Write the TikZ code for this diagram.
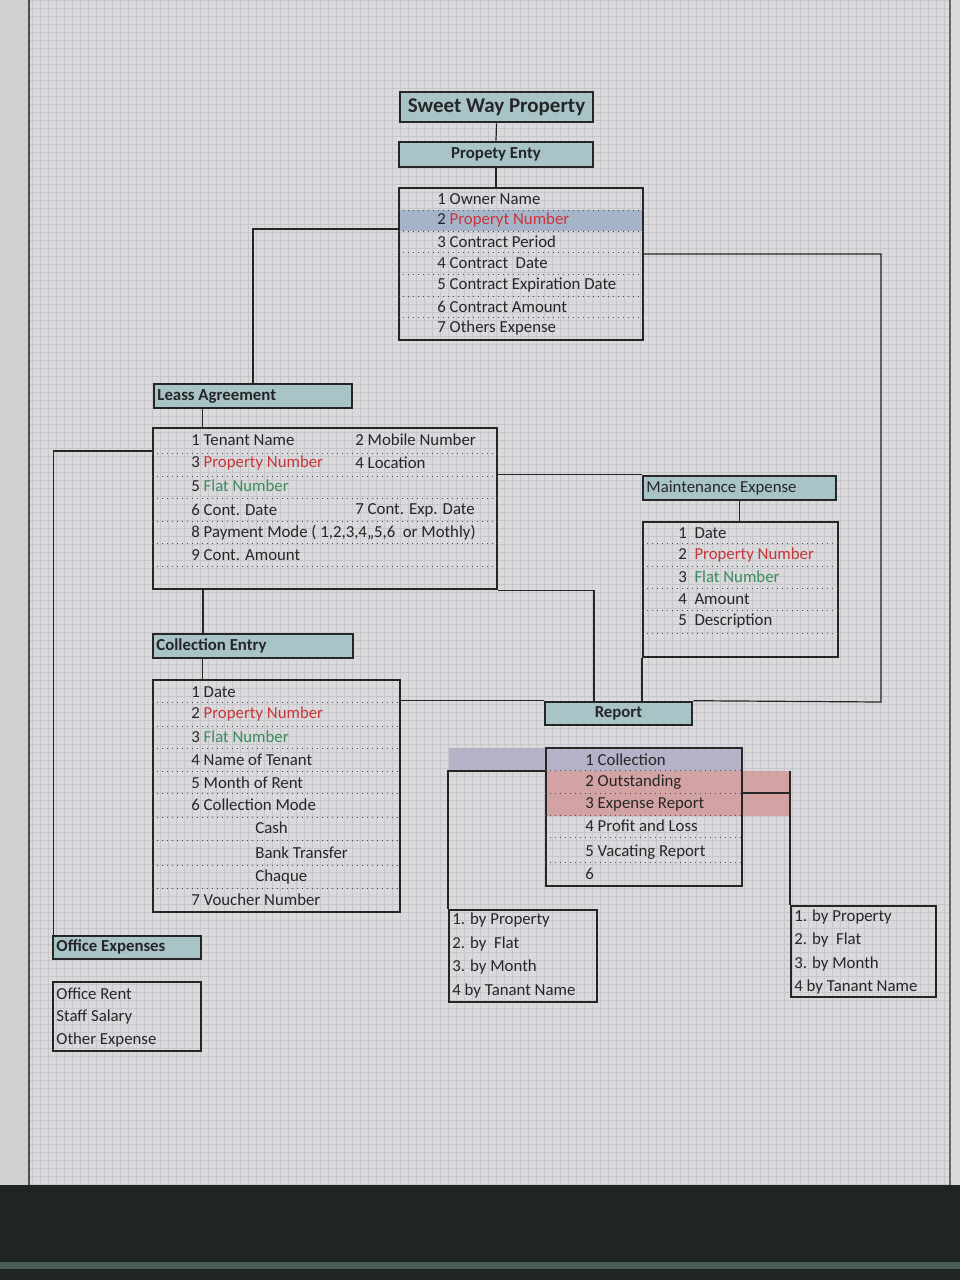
\documentclass[tikz,border=0pt]{standalone}
\usepackage{fontspec}
\setmainfont{Carlito}
\usetikzlibrary{fit}

\definecolor{bgcol}{HTML}{DADADD}
\definecolor{gridcol}{HTML}{C6C6CB}
\definecolor{headfill}{HTML}{A8C4C7}
\definecolor{bluerow}{HTML}{A6B4C9}
\definecolor{purpleband}{HTML}{B6B1C7}
\definecolor{redband}{HTML}{D3A2A3}
\definecolor{redtxt}{HTML}{C8363A}
\definecolor{greentxt}{HTML}{3C8C5C}
\definecolor{txtcol}{HTML}{262628}
\definecolor{darkband}{HTML}{1F2525}
\definecolor{stripecol}{HTML}{4A5A54}

\tikzset{
  headbox/.style={draw=black!85, line width=1.3pt, fill=headfill, inner sep=0pt},
  listbox/.style={draw=black!85, line width=1.1pt, inner sep=0pt},
  rowtxt/.style={anchor=west, inner sep=0pt, text=txtcol, font=\fontsize{8.4}{10}\selectfont},
  headtxt/.style={rowtxt, font=\bfseries\fontsize{8.4}{10}\selectfont},
  sep/.style={dotted, black!70, line width=0.5pt},
  link/.style={black!85, line width=0.6pt}
}
\newcommand{\rd}[1]{\textcolor{redtxt}{#1}}
\newcommand{\gr}[1]{\textcolor{greentxt}{#1}}

\begin{document}
\begin{tikzpicture}[x=0.5pt,y=-0.5pt]
    \useasboundingbox (0,0) rectangle (960,1280);
    % screen
    \fill[bgcol] (0,0) rectangle (960,1185);
    \fill[black!4!bgcol] (0,0) rectangle (29,1185);
    \draw[gridcol, line width=0.3pt, xstep=4pt, ystep=4pt] (29,0) grid (950,1185);
    \draw[black!70, line width=0.6pt] (29,0) -- (29,1185);
    \draw[black!60, line width=0.6pt] (950,0) -- (950,1185);
    \fill[darkband] (0,1185) rectangle (960,1280);
    \fill[stripecol] (0,1262) rectangle (960,1269);

    % property entry
    \node[headbox, fit={(400,92) (593,122)}] (title) {};
    \node[headtxt, anchor=center, font=\bfseries\fontsize{10.5}{12}\selectfont] (titletxt) at (title) {Sweet Way Property};
    \node[headbox, fit={(399,142) (593,167)}] (propentry) {};
    \node[headtxt, anchor=center] (propentrytxt) at (propentry) {Propety Enty};
    \fill[bluerow] (400,210) rectangle (642,231);
    \node[listbox, fit={(399,188) (643,340)}] (propbox) {};
    \foreach \y in {210,231,252,274,296,317}
        \draw[sep] (propbox.west |- 0,\y) -- (propbox.east |- 0,\y);
    \foreach \t [count=\i] in {1 Owner Name, {2 \rd{Properyt Number}}, 3 Contract Period,
        4 Contract\ \ Date, 5 Contract Expiration Date, 6 Contract Amount, 7 Others Expense}
        \node[rowtxt] (own\i) at (437,{199+21.5*(\i-1)}) {\t};

    % lease
    \node[headbox, fit={(154,384) (352,408)}] (leasehead) {};
    \node[headtxt] (leaseheadtxt) at (157,396) {Leass Agreement};
    \node[listbox, fit={(153,428) (497,589)}] (leasebox) {};
    \foreach \y in {453,476,498,521,543,566}
        \draw[sep] (leasebox.west |- 0,\y) -- (leasebox.east |- 0,\y);
    \node[rowtxt] (ls1) at (191,440) {1 Tenant Name};
    \node[rowtxt] (ls2) at (355,440) {2 Mobile Number};
    \node[rowtxt] (ls3) at (191,463) {3 \rd{Property Number}};
    \node[rowtxt] (ls4) at (355,463) {4 Location};
    \node[rowtxt] (ls5) at (191,486) {5 \gr{Flat Number}};
    \node[rowtxt] (ls6) at (191,510) {6 Cont. Date};
    \node[rowtxt] (ls7) at (355,510) {7 Cont. Exp. Date};
    \node[rowtxt] (ls8) at (191,533) {8 Payment Mode ( 1,2,3,4,,5,6\ \ or Mothly)};
    \node[rowtxt] (ls9) at (191,555) {9 Cont. Amount};

    % maintenance
    \node[headbox, fit={(643,476) (836,500)}] (mainthead) {};
    \node[rowtxt] (maintheadtxt) at (646,488) {Maintenance Expense};
    \node[listbox, fit={(643,522) (838,657)}] (maintbox) {};
    \foreach \y in {543,566,588,610,633}
        \draw[sep] (maintbox.west |- 0,\y) -- (maintbox.east |- 0,\y);
    \foreach \t [count=\i] in {1\ \ Date, {2\ \ \rd{Property Number}}, {3\ \ \gr{Flat Number}},
        4\ \ Amount, 5\ \ Description}
        \node[rowtxt] (mt\i) at (678,{533+22*(\i-1)}) {\t};

    % collection
    \node[headbox, fit={(153,634) (353,658)}] (collhead) {};
    \node[headtxt] (collheadtxt) at (156,646) {Collection Entry};
    \node[listbox, fit={(153,680) (400,912)}] (collbox) {};
    \foreach \y in {702,726,748,771,793,817,840,865,888}
        \draw[sep] (collbox.west |- 0,\y) -- (collbox.east |- 0,\y);
    \node[rowtxt] (cl1) at (191,692) {1 Date};
    \node[rowtxt] (cl2) at (191,714) {2 \rd{Property Number}};
    \node[rowtxt] (cl3) at (191,737) {3 \gr{Flat Number}};
    \node[rowtxt] (cl4) at (191,760) {4 Name of Tenant};
    \node[rowtxt] (cl5) at (191,783) {5 Month of Rent};
    \node[rowtxt] (cl6) at (191,805) {6 Collection Mode};
    \node[rowtxt] (cl7) at (255,828) {Cash};
    \node[rowtxt] (cl8) at (255,853) {Bank Transfer};
    \node[rowtxt] (cl9) at (255,877) {Chaque};
    \node[rowtxt] (cl10) at (191,900) {7 Voucher Number};

    % report
    \node[headbox, fit={(545,702) (692,725)}] (report) {};
    \node[headtxt, anchor=center] (reporttxt) at (report) {Report};
    \fill[purpleband] (449,748) rectangle (742,771);
    \fill[redband] (546,771) rectangle (791,816);
    \node[listbox, fit={(546,748) (742,886)}] (reportbox) {};
    \foreach \y in {770,793,815,837,862}
        \draw[sep] (reportbox.west |- 0,\y) -- (reportbox.east |- 0,\y);
    \foreach \t/\y [count=\i] in {1 Collection/760, 2 Outstanding/782, 3 Expense Report/804,
        4 Profit and Loss/826, 5 Vacating Report/852, 6/874}
        \node[rowtxt] (rp\i) at (585,\y) {\t};
    \node[listbox, fit={(449,910) (597,1002)}] (byleft) {};
    \node[listbox, fit={(791,906) (936,997)}] (byright) {};
    \foreach \t [count=\i] in {1. by Property, 2. by\ \ Flat, 3. by Month, 4 by Tanant Name} {
        \node[rowtxt] (bl\i) at (452,{920+23.7*(\i-1)}) {\t};
        \node[rowtxt] (br\i) at (794,{917+23.3*(\i-1)}) {\t};
    }

    % office
    \node[headbox, fit={(53,936) (201,959)}] (officehead) {};
    \node[headtxt] (officeheadtxt) at (56,947) {Office Expenses};
    \node[listbox, fit={(53,982) (201,1051)}] (officebox) {};
    \foreach \t [count=\i] in {Office Rent, Staff Salary, Other Expense}
        \node[rowtxt] (of\i) at (56,{994+23*(\i-1)}) {\t};

    % links
    \coordinate (rturn) at (881,702);
    \draw[link] (title.south) -- (propentry.north);
    \draw[link] (propentry.south) -- (propentry.south |- propbox.north);
    \draw[link] (propbox.west |- 0,229) -| (leasehead.north);
    \draw[link] (propbox.east |- 0,254) -| (rturn) -- (report.north east);
    \draw[link] ([xshift=25pt]leasehead.south west) -- ([xshift=25pt]leasehead.south west |- leasebox.north);
    \draw[link] ([xshift=25.5pt]leasebox.south west) -- ([xshift=25.5pt]leasebox.south west |- collhead.north);
    \draw[link] ([xshift=25.5pt]collhead.south west) -- ([xshift=25.5pt]collhead.south west |- collbox.north);
    \draw[link] (leasebox.west |- 0,451) -| ([xshift=1pt]officehead.north west);
    \draw[link] (leasebox.east |- mainthead.north west) -- (mainthead.north west);
    \draw[link] (leasebox.south east) -| ([xshift=-12.25pt]report.north);
    \draw[link] (mainthead.south) -- (mainthead.south |- maintbox.north);
    \draw[link] (maintbox.south west) -- (maintbox.south west |- report.north);
    \draw[link] (collbox.east |- report.north west) -- (report.north west);
    \draw[link] (reportbox.west |- 0,771) -| (byleft.north west);
    \draw[link] (reportbox.east |- 0,793) -| (byright.north west);
    \draw[link] (byright.west |- 0,771) -- (byright.west |- 0,793);
\end{tikzpicture}
\end{document}
